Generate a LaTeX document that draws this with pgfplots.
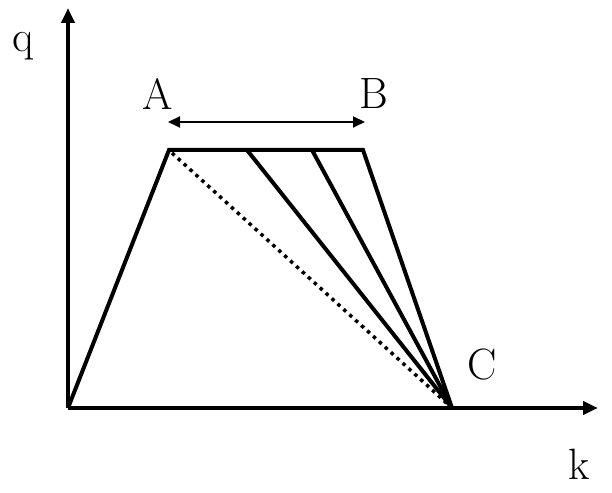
\documentclass[border=0pt]{standalone}
\usepackage{fontspec}
\usepackage{pgfplots}
\pgfplotsset{compat=1.18}
\usetikzlibrary{arrows.meta}
\begin{document}
\begin{tikzpicture}
\begin{axis}[
  hide axis, scale only axis,
  width=612bp, height=493bp,
  xmin=0, xmax=612, ymin=0, ymax=493,
  clip=false,
  every axis plot/.append style={black, line width=4bp, line join=miter, no markers},
  nodes={font=\fontsize{44}{48}\selectfont, inner sep=0pt},
]
\path (rel axis cs:0,0) rectangle (rel axis cs:1,1);
% axes
\addplot[black, -{Triangle[length=15bp,width=13bp]}] coordinates {(68,85) (598,85)};
\addplot[black, -{Triangle[length=15bp,width=13bp]}] coordinates {(68,85) (68,485)};
% fundamental diagram
\addplot[black] coordinates {(68,85) (169,343) (363,343) (452,85)};
\addplot[black] coordinates {(247,343) (452,85)};
\addplot[black] coordinates {(312,343) (452,85)};
\addplot[black, line width=3.5bp, dash pattern=on 3.5bp off 4.5bp] coordinates {(172,340) (452,85)};
% A--B range
\addplot[black, line width=2bp, {Triangle[length=12bp,width=11bp]}-{Triangle[length=12bp,width=11bp]}]
  coordinates {(168,371) (365,371)};
\node at (axis cs:158,399) {A};
\node at (axis cs:374,399) {B};
\node at (axis cs:482,128) {C};
\node at (axis cs:23,447) {q};
\node at (axis cs:579,29) {k};
\end{axis}
\end{tikzpicture}
\end{document}
